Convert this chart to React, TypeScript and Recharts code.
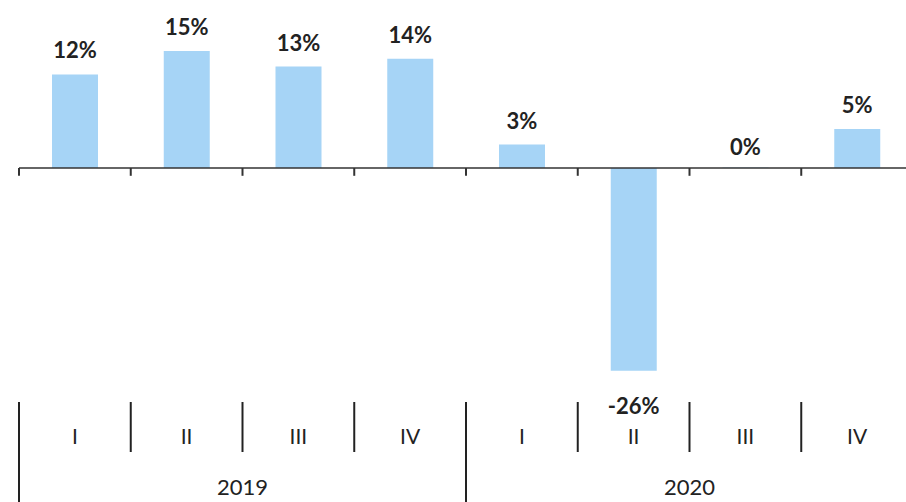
import { BarChart, Bar, XAxis, YAxis, ReferenceLine, LabelList } from 'recharts';

const quarters = ['I', 'II', 'III', 'IV', 'I', 'II', 'III', 'IV'];
const years = ['2019', '2019', '2019', '2019', '2020', '2020', '2020', '2020'];
const growth = [12, 15, 13, 14, 3, -26, 0, 5];

const data = quarters.map((q, i) => ({
  key: `${years[i]}-${q}`,
  quarter: q,
  year: years[i],
  value: growth[i],
}));

const FONT = 'Lato, "Open Sans", sans-serif';
const TEXT = '#222';
const BAR = '#a6d4f6';

function QuarterTick(props: any) {
  const { x, y, payload, index } = props;
  const i = payload?.index ?? index;
  const half = payload?.offset ?? 56;
  const row = data[i];
  const groupStart = i % 4 === 0;
  const showYear = i % 4 === 1;
  return (
    <g>
      <line
        x1={x - half}
        x2={x - half}
        y1={y}
        y2={y + (groupStart ? 100 : 50)}
        stroke="#222"
        strokeWidth={2}
      />
      <text x={x} y={y + 42} textAnchor="middle" fontFamily={FONT} fontSize={21} fill={TEXT}>
        {row.quarter}
      </text>
      {showYear && (
        <text x={x + half} y={y + 93} textAnchor="middle" fontFamily={FONT} fontSize={22} fill={TEXT}>
          {row.year}
        </text>
      )}
    </g>
  );
}

function ValueLabel(props: any) {
  const { x, y, width, height, value } = props;
  const h = height || 0;
  const top = Math.min(y, y + h);
  const bottom = Math.max(y, y + h);
  const cx = x + width / 2;
  const ty = value < 0 ? bottom + 43 : top - (value === 0 ? 13 : 16);
  return (
    <text x={cx} y={ty} textAnchor="middle" fontFamily={FONT} fontWeight={700} fontSize={22} fill={TEXT}>
      {`${value}%`}
    </text>
  );
}

export default function App() {
  return (
    <div style={{ position: 'absolute', left: 0, top: 0, width: 906, height: 502, overflow: 'hidden', background: '#fff' }}>
      <BarChart
        width={913}
        height={502}
        data={data}
        margin={{ top: 12, right: 0, left: 19, bottom: 0 }}
      >
        <YAxis hide domain={[-30, 20]} />
        <XAxis
          dataKey="key"
          height={100}
          axisLine={false}
          tickLine={false}
          tickSize={0}
          tickMargin={0}
          interval={0}
          tick={<QuarterTick />}
        />
        <Bar
          dataKey="value"
          fill={BAR}
          barSize={46}
          minPointSize={(v: number) => (v === 0 ? 0.5 : 0)}
          isAnimationActive={false}
        >
          <LabelList dataKey="value" content={<ValueLabel />} />
        </Bar>
        <ReferenceLine y={0} stroke="#333" strokeWidth={1.5} />
        {data.map((d) => (
          <ReferenceLine
            key={d.key}
            position="start"
            segment={[
              { x: d.key, y: 0 },
              { x: d.key, y: -1 },
            ]}
            stroke="#333"
            strokeWidth={2}
          />
        ))}
      </BarChart>
    </div>
  );
}
